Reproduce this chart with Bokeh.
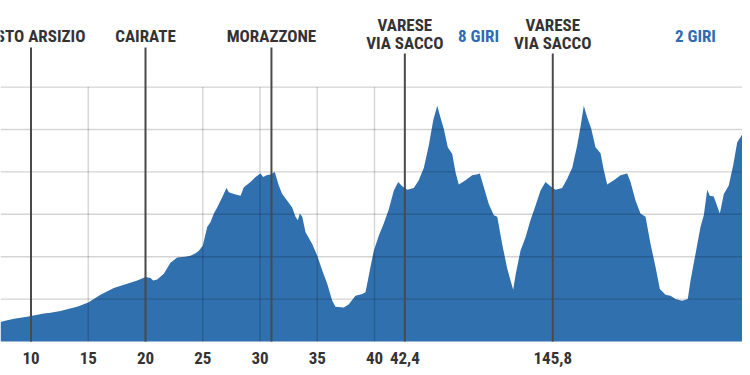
from bokeh.plotting import figure
from bokeh.models import Range1d
from bokeh.core.properties import value
from bokeh.embed import file_html
from bokeh.resources import INLINE

# ---- data (distance on the drawn scale, elevation in m) ----
dist = [7.34, 7.92, 8.65, 9.52, 10.0, 11.12, 11.70, 12.58, 13.16, 14.03, 15.0, 16.07, 17.23,
        18.40, 19.28, 20.0, 20.44, 20.67, 21.02, 21.60, 22.18, 22.77, 23.49, 23.93, 24.37,
        24.66, 25.0, 25.39, 25.68, 25.97, 26.26, 26.70, 27.07, 27.28, 27.71, 28.30, 28.59,
        29.17, 29.61, 30.04, 30.28, 30.57, 30.92, 31.29, 31.64, 31.94, 32.38, 32.81, 33.10,
        33.30, 33.48, 33.69, 33.97, 34.56, 35.0, 35.43, 35.87, 36.31, 36.59, 37.32, 37.76,
        38.34, 38.93, 39.21, 39.42, 39.65, 39.94, 40.38, 40.81, 41.25, 41.69, 42.07, 42.42,
        42.86, 43.43, 43.87, 44.31, 44.74, 45.13, 45.48, 45.76, 46.05, 46.40, 46.79, 47.07,
        47.36, 47.95, 48.53, 48.91, 49.20, 49.55, 49.98, 50.42, 50.72, 51.15, 51.59, 52.11,
        52.34, 52.75, 53.19, 53.62, 54.06, 54.50, 54.93, 55.37, 55.81, 56.39, 56.83, 57.27,
        57.70, 57.99, 58.28, 58.58, 58.93, 59.30, 59.74, 60.03, 60.32, 60.90, 61.49, 62.07,
        62.36, 62.80, 63.23, 63.67, 64.11, 64.54, 64.92, 65.42, 65.85, 66.29, 66.87, 67.36,
        67.60, 68.03, 68.47, 68.76, 69.06, 69.28, 69.63, 70.16, 70.51, 70.94, 71.33, 71.68,
        72.20, 72.55, 72.84]
elev = [223, 225, 227, 229, 230, 233, 234, 236, 238, 241, 246, 255, 263,
        268, 272, 276, 275, 272, 273, 280, 293, 299, 300, 301, 304,
        307, 313, 335, 341, 351, 358, 370, 381, 376, 374, 372, 382,
        388, 394, 398, 394, 396, 397, 400, 384, 374, 366, 358, 347,
        343, 351, 347, 329, 315, 301, 284, 268, 248, 241, 240, 244,
        254, 256, 258, 272, 288, 307, 325, 339, 356, 378, 388, 383,
        379, 381, 390, 405, 431, 461, 478, 464, 451, 429, 421, 400,
        385, 390, 396, 397, 398, 382, 362, 349, 347, 315, 286, 261,
        280, 307, 323, 343, 360, 378, 388, 383, 379, 381, 392, 405,
        431, 453, 478, 464, 451, 429, 422, 402, 385, 390, 396, 398,
        388, 366, 351, 347, 315, 288, 262, 255, 254, 250, 248, 250,
        272, 303, 335, 349, 379, 372, 371, 351, 374, 384, 408, 435,
        446, 437, 429]

tick_pos = [10, 15, 20, 25, 30, 35, 40, 42.65, 55.57]
tick_labels = ["10", "15", "20", "25", "30", "35", "40", "42,4", "145,8"]
grid_x = [10, 15, 20, 25, 30, 35, 40]
grid_y = [250, 300, 350, 400, 450, 500]

start_name = ["BUSTO ARSIZIO"]
start_x = [10]
place_names = ["CAIRATE", "MORAZZONE"]
place_x = [20, 31.0]
varese_x = [42.65, 55.57]
laps_text = ["8 GIRI", "2 GIRI"]
laps_x = [49.08, 68.03]

BASE = 200
X0, X1 = 7.336, 72.14
Y0, Y1 = 169.34, 602.1
FONT = "'Roboto Condensed', 'Liberation Sans Narrow', 'DejaVu Sans Condensed', 'Roboto', sans-serif"

p = figure(frame_width=742, frame_height=367, output_backend="svg", toolbar_location=None,
           x_range=Range1d(X0, X1), y_range=Range1d(Y0, Y1),
           x_axis_location=None, y_axis_location=None,
           min_border_left=0, min_border_right=0, min_border_top=0, min_border_bottom=0)
p.outline_line_color = None
p.xgrid.visible = False
p.ygrid.visible = False
p.background_fill_color = "white"
p.border_fill_color = "white"

# profile
p.varea(x=dist, y1=[BASE] * len(dist), y2=elev, fill_color="#3070ae")

# gridlines (drawn above the fill, semi-transparent)
p.segment(x0=[X0] * len(grid_y), x1=[X1] * len(grid_y), y0=grid_y, y1=grid_y,
          line_color="black", line_alpha=0.17, line_width=1.4)
p.segment(x0=grid_x, x1=grid_x, y0=[BASE] * len(grid_x), y1=[grid_y[-1]] * len(grid_x),
          line_color="black", line_alpha=0.17, line_width=1.4)

# place marker lines
p.segment(x0=start_x + place_x, x1=start_x + place_x, y0=[BASE] * 3, y1=[546.7] * 3,
          line_color="#4a4a4a", line_width=2)
p.segment(x0=varese_x, x1=varese_x, y0=[BASE] * 2, y1=[539.6] * 2,
          line_color="#4a4a4a", line_width=2)

# labels
TS = "17px"
common = dict(text_align="center", text_baseline="alphabetic", text_font=value(FONT),
              text_font_style="bold", text_font_size=TS)
p.text(x=start_x, y=[559.7], text=start_name, text_color="#333333", **common)
p.text(x=place_x, y=[559.7] * 2, text=place_names, text_color="#333333", **common)
p.text(x=varese_x, y=[573.0] * 2, text=["VARESE"] * 2, text_color="#333333", **common)
p.text(x=varese_x, y=[552.3] * 2, text=["VIA SACCO"] * 2, text_color="#333333", **common)
p.text(x=laps_x, y=[560.0] * 2, text=laps_text, text_color="#2e6bb5", **common)

# distance labels along the bottom
p.text(x=tick_pos, y=[181.0] * len(tick_pos), text=tick_labels, text_color="#333333", **common)

open("out.html", "w").write(file_html(p, INLINE))
